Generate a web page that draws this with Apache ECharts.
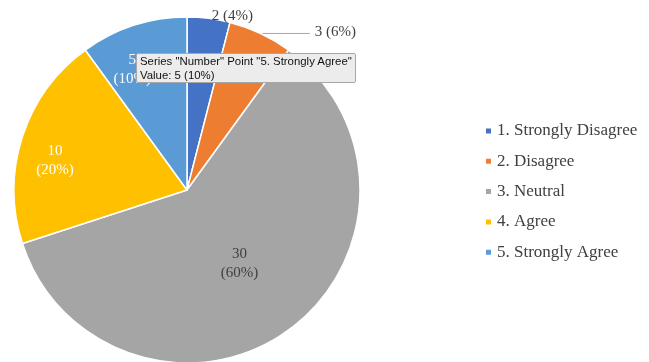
<!DOCTYPE html>
<html>
<head>
<meta charset="utf-8">
<script src="https://cdn.jsdelivr.net/npm/echarts@6/dist/echarts.min.js"></script>
<style>
  html, body { margin: 0; padding: 0; background: #fff; }
  #chart { width: 649px; height: 362px; }
</style>
</head>
<body>
<div id="chart"></div>
<script>
// Survey responses
const seriesName = 'Number';
const categories = ['1. Strongly Disagree', '2. Disagree', '3. Neutral', '4. Agree', '5. Strongly Agree'];
const counts = [2, 3, 30, 10, 5];
const sliceColors = ['#4472C4', '#ED7D31', '#A5A5A5', '#FFC000', '#5B9BD5'];
// Which slice the hover box describes
const tipIndex = 4;

// Per-slice label placement: inside or outside, and a small nudge
const labelPlace = ['outside', 'outside', 'inside', 'inside', 'inside'];
const labelColor = ['#404040', '#404040', '#404040', '#ffffff', '#ffffff'];
const labelNudge = [[-2, -2.5], [0, -1], [0, 1], [-47, -2], [-27, -35]];

const total = counts.reduce((a, b) => a + b, 0);
const pct = v => Math.round(v / total * 100) + '%';

const data = categories.map((name, i) => {
  const outside = labelPlace[i] === 'outside';
  return {
    name: name,
    value: counts[i],
    itemStyle: { color: sliceColors[i] },
    label: {
      position: labelPlace[i],
      color: labelColor[i],
      formatter: outside ? '{c} ({d}%)' : '{c}\n({d}%)'
    },
    labelLine: {
      show: outside && i === 1,
      length: 0,
      length2: i === 1 ? 49 : 0,
      lineStyle: { color: '#a6a6a6', width: 1 }
    }
  };
});

const chart = echarts.init(document.getElementById('chart'), null, { renderer: 'canvas' });
chart.setOption({
  animation: false,
  backgroundColor: '#ffffff',
  textStyle: { fontFamily: '"Liberation Serif", "Times New Roman", serif' },
  tooltip: {
    trigger: 'item',
    triggerOn: 'none',
    alwaysShowContent: true,
    transitionDuration: 0,
    backgroundColor: '#ececec',
    borderColor: '#a8a8a8',
    borderWidth: 1,
    padding: [0, 3, 0, 3],
    textStyle: { fontFamily: '"Liberation Sans", Arial, sans-serif', fontSize: 11.4, color: '#111', lineHeight: 14 },
    extraCssText: 'box-shadow:none;border-radius:2px;line-height:14px;',
    position: [136, 53],
    formatter: p => 'Series "' + p.seriesName + '" Point "' + p.name + '"<br>Value: ' + p.value + ' (' + pct(p.value) + ')'
  },
  legend: {
    orient: 'vertical',
    left: 479,
    top: 117,
    icon: 'rect',
    itemWidth: 7,
    itemHeight: 7,
    itemGap: 12.3,
    selectedMode: false,
    textStyle: { fontFamily: '"Liberation Serif", serif', fontSize: 17, lineHeight: 18, color: '#404040' },
    data: categories
  },
  series: [{
    name: seriesName,
    type: 'pie',
    center: [187, 190],
    radius: 173,
    startAngle: 90,
    clockwise: true,
    avoidLabelOverlap: false,
    emphasis: { disabled: true },
    itemStyle: { borderColor: '#ffffff', borderWidth: 1.5 },
    label: {
      fontFamily: '"Liberation Serif", serif',
      fontSize: 15,
      lineHeight: 19,
      distanceToLabelLine: 5
    },
    labelLayout: p => ({ dx: labelNudge[p.dataIndex][0], dy: labelNudge[p.dataIndex][1] }),
    data: data
  }]
});
chart.dispatchAction({ type: 'showTip', seriesIndex: 0, dataIndex: tipIndex });
</script>
</body>
</html>
